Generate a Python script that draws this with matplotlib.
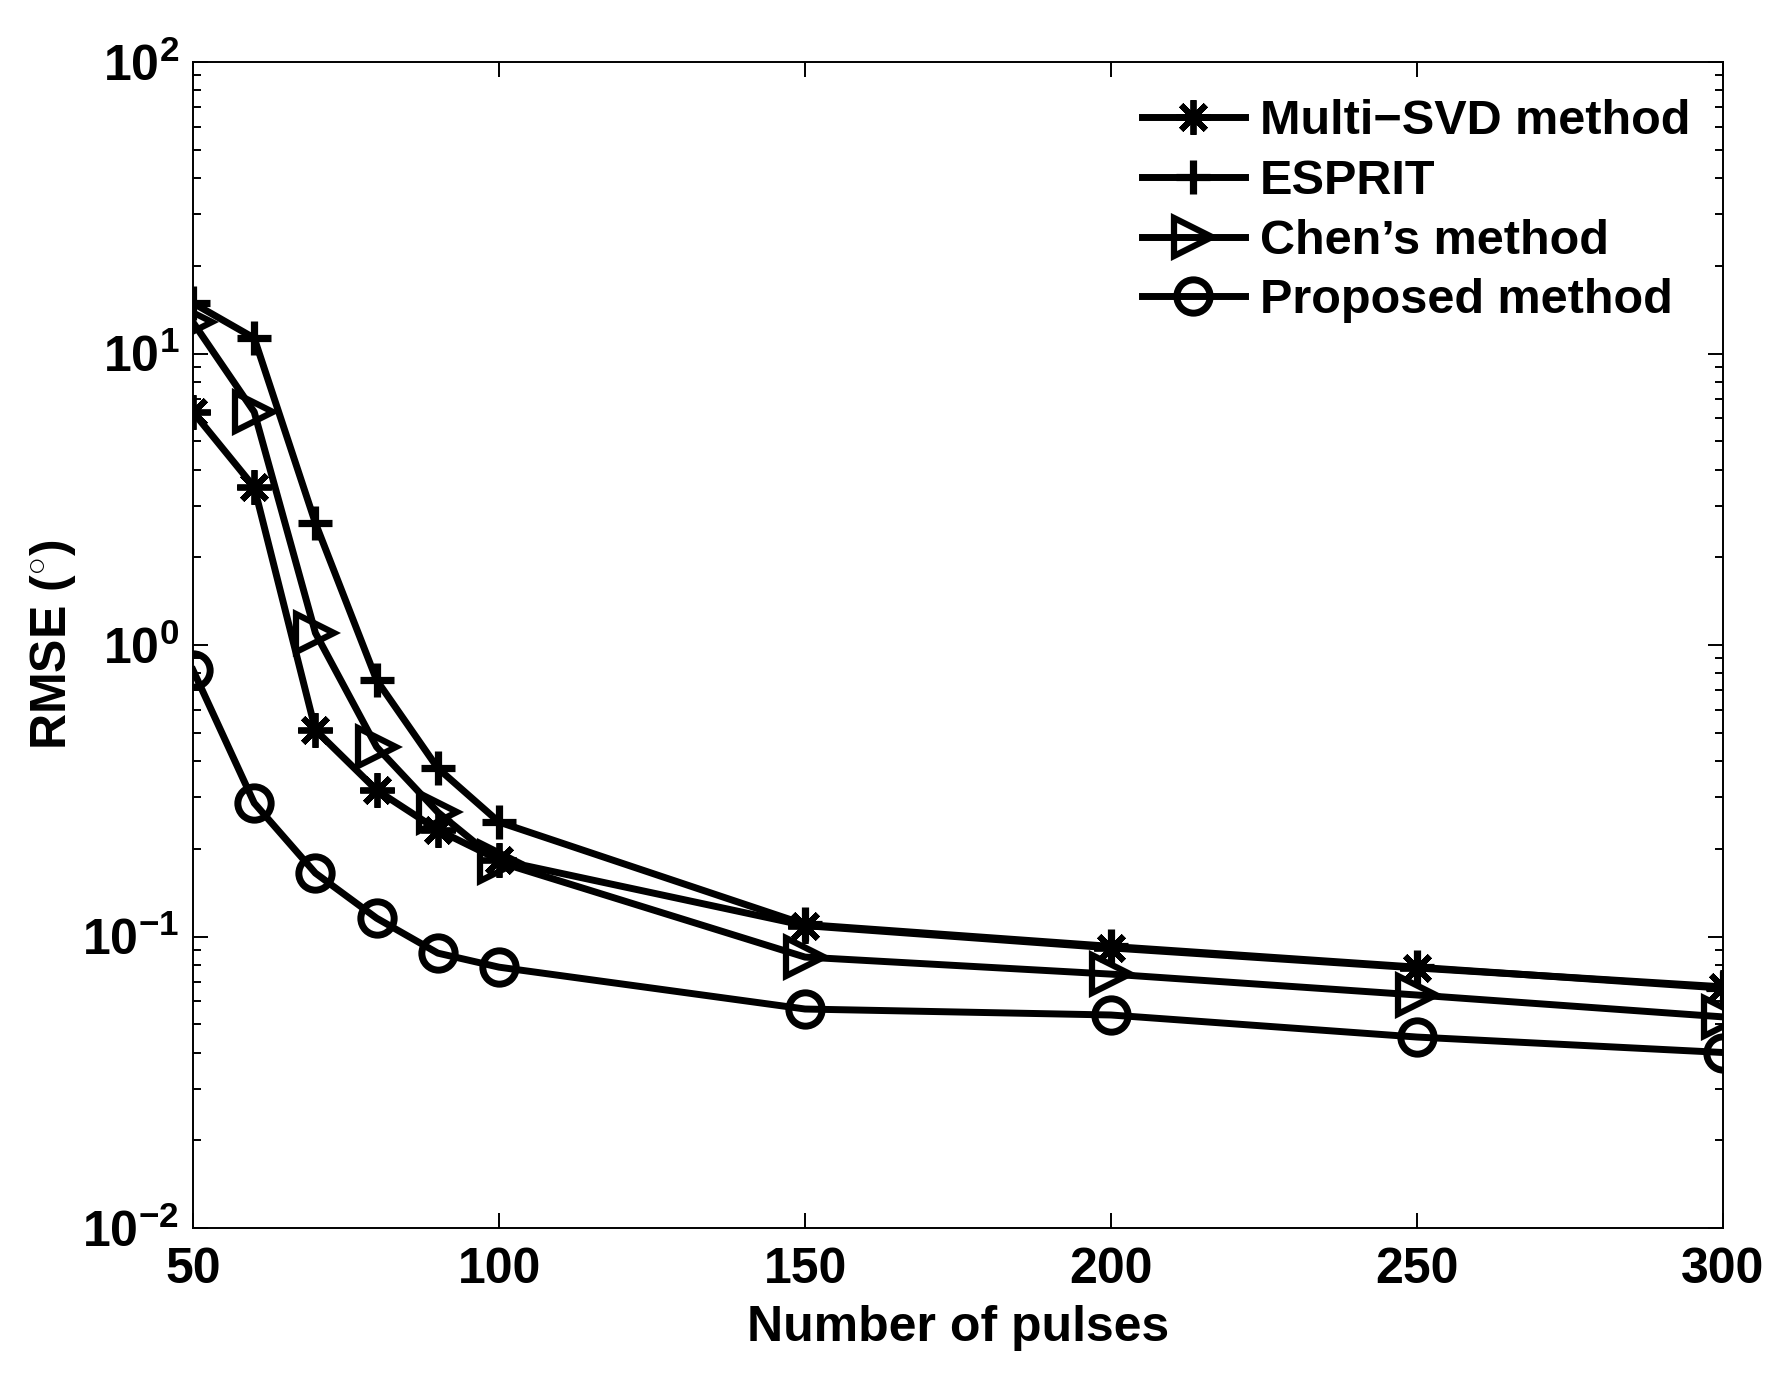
import math
import matplotlib
matplotlib.use("Agg")
import matplotlib.pyplot as plt
from matplotlib.ticker import FixedLocator, FuncFormatter, LogLocator, NullFormatter

pulses = [50, 60, 70, 80, 90, 100, 150, 200, 250, 300]
multi_svd = [6.3, 3.48, 0.511, 0.318, 0.232, 0.183, 0.109, 0.0914, 0.078, 0.0672]
esprit = [14.9, 11.3, 2.62, 0.758, 0.378, 0.247, 0.110, 0.0925, 0.0785, 0.0665]
chen = [12.8, 6.3, 1.10, 0.447, 0.267, 0.180, 0.085, 0.0743, 0.063, 0.053]
proposed = [0.82, 0.287, 0.165, 0.1156, 0.0877, 0.0785, 0.0564, 0.0538, 0.0452, 0.040]
labels = ["Multi\u2212SVD method", "ESPRIT", "Chen\u2019s method", "Proposed method"]
xticks = [50, 100, 150, 200, 250, 300]

plt.rcParams['font.family'] = ['Liberation Sans', 'DejaVu Sans']
plt.rcParams['font.weight'] = 'bold'
plt.rcParams['mathtext.fontset'] = 'custom'
plt.rcParams['mathtext.rm'] = 'Liberation Sans:bold'
plt.rcParams['mathtext.bf'] = 'Liberation Sans:bold'
plt.rcParams['mathtext.it'] = 'Liberation Sans:bold'

fig = plt.figure(figsize=(17.84, 13.73), dpi=100)
ax = fig.add_axes([0.1082, 0.1056, 0.8576, 0.8492])

lw = 5.0
ax.plot(pulses, multi_svd, color='k', lw=lw, marker=(8, 2, 0), ms=25, mew=4.2,
        label=labels[0])
ax.plot(pulses, esprit, color='k', lw=lw, marker='+', ms=25, mew=5.2,
        label=labels[1])
ax.plot(pulses, chen, color='k', lw=lw, marker='>', ms=27, mew=4.5, mfc='none',
        label=labels[2])
ax.plot(pulses, proposed, color='k', lw=lw, marker='o', ms=24, mew=5, mfc='none',
        label=labels[3])

ax.set_yscale('log')
ax.set_xlim(50, 300)
ax.set_ylim(1e-2, 1e2)
ax.xaxis.set_major_locator(FixedLocator(xticks))
ax.yaxis.set_major_locator(LogLocator(base=10, numticks=10))
ax.yaxis.set_minor_locator(LogLocator(base=10, subs=range(2, 10), numticks=20))
ax.yaxis.set_minor_formatter(NullFormatter())
ax.yaxis.set_major_formatter(FuncFormatter(lambda v, p: r'$10^{%d}$' % round(math.log10(v))))

ax.tick_params(which='both', direction='in', top=True, right=True,
               labelsize=36, width=1.4)
ax.tick_params(which='major', length=11)
ax.tick_params(which='minor', length=6)
ax.tick_params(axis='x', pad=14)
ax.tick_params(axis='y', pad=10)
for s in ax.spines.values():
    s.set_linewidth(1.4)

ax.set_xlabel('Number of pulses', fontsize=36, fontweight='bold', labelpad=8)
ax.set_ylabel(r'RMSE ($^{\circ}$)', fontsize=36, fontweight='bold', labelpad=3)

leg = ax.legend(loc='upper left', bbox_to_anchor=(0.62, 0.968), frameon=False,
                fontsize=35, handlelength=2.12, handletextpad=0.32,
                labelspacing=0.3, borderpad=0, borderaxespad=0)

fig.savefig('out.png', dpi=100)
